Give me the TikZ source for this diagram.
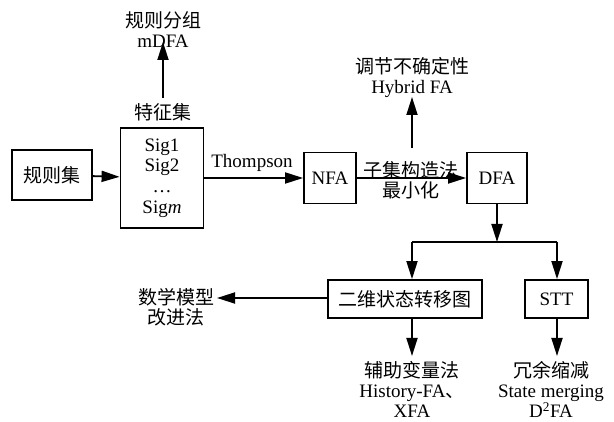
\documentclass[tikz,border=0pt]{standalone}
\usepackage{fontspec}
\setmainfont{Liberation Serif}
\newfontfamily\cjk{Noto Sans CJK SC}
\usetikzlibrary{arrows.meta}
\begin{document}
\begin{tikzpicture}[x=1pt,y=-1pt,
  font=\fontsize{19}{20}\selectfont,
  box/.style={draw,line width=1.8pt,inner sep=0pt,align=center},
  lbl/.style={inner sep=0pt,align=center},
  arr/.style={line width=1.8pt,-{Triangle[length=18pt,width=11pt]}},
  ln/.style={line width=1.8pt}]
\useasboundingbox (0,0) rectangle (614,422);
% boxes
\node[box,minimum width=80pt,minimum height=50pt] (rules) at (52,175) {\cjk 规则集};
\node[box,minimum width=83pt,minimum height=100pt] (sig) at (162,178) {Sig1\\Sig2\\[1pt]…\\[1pt]Sig\textit{m}};
\node[box,minimum width=52pt,minimum height=51pt] (nfa) at (330,178) {NFA};
\node[box,minimum width=60pt,minimum height=51pt] (dfa) at (497,178) {DFA};
\node[box,minimum width=154pt,minimum height=38pt] (twod) at (405,299) {\cjk 二维状态转移图};
\node[box,minimum width=63pt,minimum height=38pt] (stt) at (556.5,299) {STT};
% labels
\node[lbl] (feat) at (163,112) {\cjk 特征集};
\node[lbl] (grp) at (163,30) {{\cjk 规则分组}\\mDFA};
\node[lbl] (thom) at (252,163) {Thompson};
\node[lbl] (subset) at (411,180) {{\cjk 子集构造法}\\{\cjk 最小化}};
\node[lbl] (hyb) at (412,78) {{\cjk 调节不确定性}\\Hybrid FA};
\node[lbl] (math) at (176,307) {{\cjk 数学模型}\\{\cjk 改进法}};
\node[lbl,anchor=south] (aux) at (412,418) {{\cjk 辅助变量法}\\History-FA{\cjk 、}\\XFA};
\node[lbl,anchor=south] (red) at (551,418) {{\cjk 冗余缩减}\\State merging\\D\textsuperscript{2}FA};
% coordinates
\coordinate (fs) at (163,98);
\coordinate (ge) at (163,42);
\coordinate (hs) at (412,148);
\coordinate (he) at (412,97);
\coordinate (j) at (497,242);
\coordinate (jl) at (412,242);
\coordinate (jr) at (557,242);
\coordinate (ml) at (217,298);
\coordinate (ae) at (412,356);
\coordinate (re) at (557,356);
% connectors
\draw[arr] (rules) -- (sig);
\draw[arr] (fs) -- (ge);
\draw[arr] (sig) -- (nfa);
\draw[arr] (nfa) -- (dfa);
\draw[arr] (hs) -- (he);
\draw[arr] (dfa) -- (j);
\draw[ln] (jl) -- (jr);
\draw[arr] (jl) -- (jl |- twod.north);
\draw[arr] (jr) -- (stt.north -| jr);
\draw[arr] (twod.west |- ml) -- (ml);
\draw[arr] (jl |- twod.south) -- (ae);
\draw[arr] (stt.south -| jr) -- (re);
\end{tikzpicture}
\end{document}
